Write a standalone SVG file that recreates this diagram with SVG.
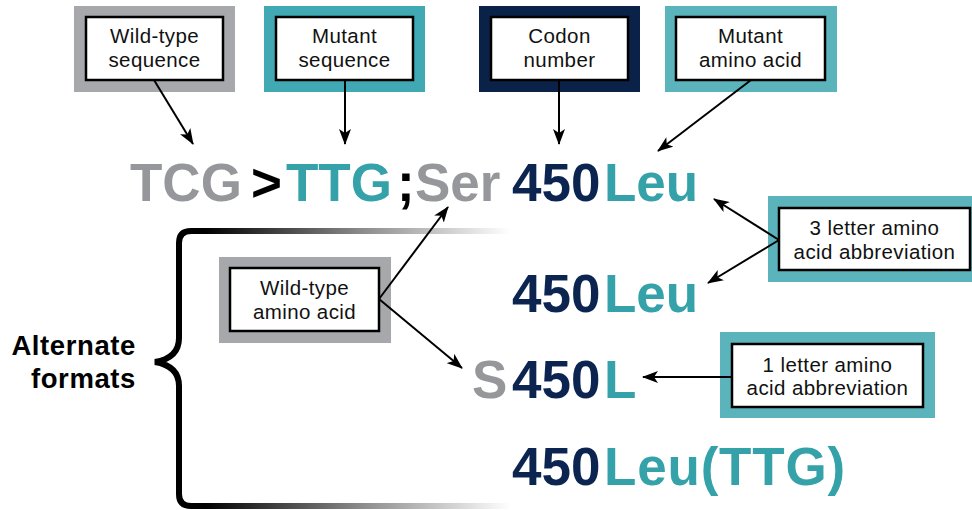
<svg xmlns="http://www.w3.org/2000/svg" width="972" height="510" viewBox="0 0 972 510">
<defs>
<marker id="ah" viewBox="0 0 16 12" refX="15" refY="6" markerWidth="16" markerHeight="12" markerUnits="userSpaceOnUse" orient="auto-start-reverse">
<path d="M0,0 L16,6 L0,12 L4,6 z" fill="#000"/>
</marker>
<linearGradient id="fade" x1="0" y1="0" x2="1" y2="0">
<stop offset="0" stop-color="#000"/>
<stop offset="0.5" stop-color="#888"/>
<stop offset="1" stop-color="#fff"/>
</linearGradient>
<style>
.lbl{font-family:"Liberation Sans",Arial,sans-serif;font-size:20.5px;fill:#111;text-anchor:middle;letter-spacing:0.4px}
.big{font-family:"Liberation Sans",Arial,sans-serif;font-weight:bold;font-size:53px}
.inner{fill:#fff;stroke:#000;stroke-width:2.5}
.gray{fill:#96979b}
.teal{fill:#35a2aa}
.navy{fill:#0b2550}
.blk{fill:#000}
.con{stroke:#000;stroke-width:2;fill:none;marker-end:url(#ah)}
</style>
</defs>
<rect width="972" height="510" fill="#fff"/>

<g id="wt-seq">
<rect x="74" y="6" width="161" height="86" fill="#a7a8ab"/>
<rect class="inner" x="86" y="17" width="137" height="63"/>
<text class="lbl" x="154.5" y="43">Wild-type</text>
<text class="lbl" x="154.5" y="67">sequence</text>
</g>
<g id="mut-seq">
<rect x="264" y="6" width="161" height="86" fill="#40a9b3"/>
<rect class="inner" x="276" y="17" width="137" height="63"/>
<text class="lbl" x="344.5" y="43">Mutant</text>
<text class="lbl" x="344.5" y="67">sequence</text>
</g>
<g id="codon">
<rect x="479" y="6" width="161" height="86" fill="#0a2248"/>
<rect class="inner" x="491" y="17" width="137" height="63"/>
<text class="lbl" x="559.5" y="43">Codon</text>
<text class="lbl" x="559.5" y="67">number</text>
</g>
<g id="mut-aa">
<rect x="665" y="6" width="172" height="86" fill="#5bb3bb"/>
<rect class="inner" x="676" y="17" width="149" height="63"/>
<text class="lbl" x="750.5" y="43">Mutant</text>
<text class="lbl" x="750.5" y="67">amino acid</text>
</g>
<g id="three-letter">
<rect x="768" y="196" width="204" height="86" fill="#5bb3bb"/>
<rect class="inner" x="779" y="208" width="191" height="62"/>
<text class="lbl" x="874.5" y="235">3 letter amino</text>
<text class="lbl" x="874.5" y="259">acid abbreviation</text>
</g>
<g id="one-letter">
<rect x="720" y="332" width="215" height="86" fill="#5bb3bb"/>
<rect class="inner" x="732" y="344" width="191" height="63"/>
<text class="lbl" x="827.5" y="372">1 letter amino</text>
<text class="lbl" x="827.5" y="395">acid abbreviation</text>
</g>
<g id="wt-aa">
<rect x="219" y="257" width="172" height="86" fill="#a7a8ab"/>
<rect class="inner" x="230" y="268" width="149" height="63"/>
<text class="lbl" x="304.5" y="295">Wild-type</text>
<text class="lbl" x="304.5" y="319">amino acid</text>
</g>

<g id="line1" class="big">
<text class="gray" x="130" y="201">TCG</text>
<text class="blk" x="251" y="201">&gt;</text>
<text class="teal" x="286" y="201">TTG</text>
<text class="blk" x="397" y="201">;</text>
<text class="gray" x="415" y="201">Ser</text>
<text class="navy" x="512" y="201">450</text>
<text class="teal" x="604" y="201">Leu</text>
</g>
<g id="line2" class="big">
<text class="navy" x="512" y="312">450</text>
<text class="teal" x="604" y="312">Leu</text>
</g>
<g id="line3" class="big">
<text class="gray" x="472" y="398">S</text>
<text class="navy" x="512" y="398">450</text>
<text class="teal" x="604" y="398">L</text>
</g>
<g id="line4" class="big">
<text class="navy" x="512" y="485">450</text>
<text class="teal" x="604" y="485" letter-spacing="0.8">Leu(TTG)</text>
</g>

<g id="alt">
<text font-family="Liberation Sans,Arial,sans-serif" font-weight="bold" font-size="27.5" text-anchor="end" x="136" y="355" letter-spacing="0.6">Alternate</text>
<text font-family="Liberation Sans,Arial,sans-serif" font-weight="bold" font-size="27.5" text-anchor="end" x="136" y="388" letter-spacing="0.6">formats</text>
<path d="M207,231 L191,231 Q179,231 179,243 L179,338 Q179,358 155,362 Q179,366 179,386 L179,494 Q179,506 191,506 L207,506" fill="none" stroke="#000" stroke-width="6"/>
<rect x="205" y="228" width="305" height="6" fill="url(#fade)"/>
<rect x="205" y="503" width="305" height="6" fill="url(#fade)"/>
</g>

<g id="connectors">
<line class="con" x1="154" y1="80" x2="193" y2="144"/>
<line class="con" x1="345" y1="80" x2="345" y2="144"/>
<line class="con" x1="559" y1="80" x2="559" y2="144"/>
<line class="con" x1="751" y1="80" x2="658" y2="151"/>
<line class="con" x1="779" y1="240" x2="714" y2="199"/>
<line class="con" x1="779" y1="240" x2="708" y2="283"/>
<line class="con" x1="732" y1="377" x2="643" y2="377"/>
<line class="con" x1="379" y1="299" x2="448" y2="207"/>
<line class="con" x1="379" y1="299" x2="462" y2="368"/>
</g>
</svg>
